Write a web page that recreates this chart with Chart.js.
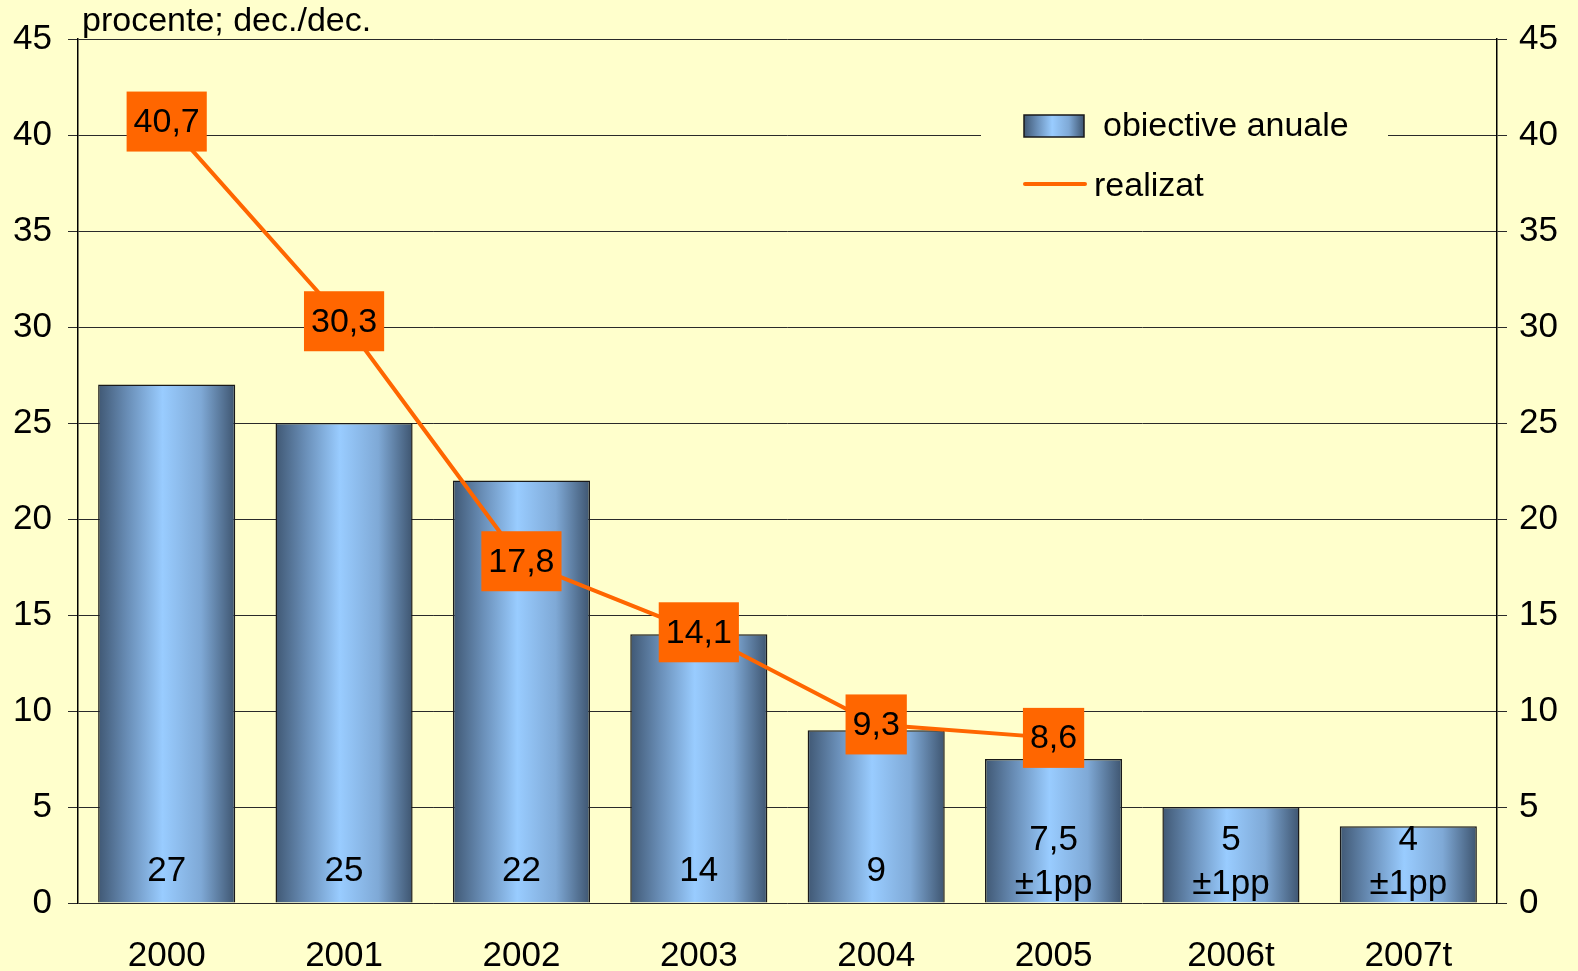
<!DOCTYPE html>
<html>
<head>
<meta charset="utf-8">
<script src="https://cdn.jsdelivr.net/npm/chart.js@4/dist/chart.umd.min.js"></script>
<style>
body { margin: 0; background: #ffffcc; }
#wrap { width: 1578px; height: 971px; }
</style>
</head>
<body>
<div id="wrap"><canvas id="inflChart"></canvas></div>
<script>
const years = ["2000", "2001", "2002", "2003", "2004", "2005", "2006t", "2007t"]
const targets = [27, 25, 22, 14, 9, 7.5, 5, 4]
const targetNotes = ["", "", "", "", "", "±1pp", "±1pp", "±1pp"]
const actual = [40.7, 30.3, 17.8, 14.1, 9.3, 8.6, null, null]

const FONT = "'Liberation Sans', Arial, sans-serif"
const catPct = 0.773

const fmt = v => String(v).replace(".", ",")

function barGradient(ctx, x0, x1) {
    const g = ctx.createLinearGradient(x0, 0, x1, 0)
    g.addColorStop(0, "#405874")
    g.addColorStop(0.22, "#6a8fb8")
    g.addColorStop(0.47, "#99ccff")
    g.addColorStop(0.75, "#7fa9d6")
    g.addColorStop(1, "#3e5570")
    return g
}

const decor = {
    id: "decor",
    beforeDraw(chart) {
        const c = chart.ctx
        c.save()
        c.fillStyle = "#ffffcc"
        c.fillRect(0, 0, chart.width, chart.height)
        c.restore()
    },
    afterDatasetsDraw(chart) {
        const c = chart.ctx
        const base = chart.scales.y.getPixelForValue(0)
        const bars = chart.getDatasetMeta(1).data
        const pts = chart.getDatasetMeta(0).data

        c.save()
        c.font = "35px " + FONT
        c.textAlign = "center"
        c.textBaseline = "middle"
        c.fillStyle = "#000"

        // values inside the bars
        bars.forEach((b, i) => {
            if (targetNotes[i]) {
                c.fillText(fmt(targets[i]), b.x, base - 63)
                c.fillText(targetNotes[i], b.x, base - 19)
            } else {
                c.fillText(fmt(targets[i]), b.x, base - 32)
            }
        })

        // orange boxes for realised values
        c.font = "34px " + FONT
        pts.forEach((p, i) => {
            if (actual[i] == null) return
            const txt = fmt(actual[i])
            const w = c.measureText(txt).width + 14
            c.fillStyle = "#ff6600"
            c.fillRect(p.x - w / 2, p.y - 30, w, 60)
            c.fillStyle = "#000"
            c.fillText(txt, p.x, p.y + 1)
        })

        // unit label
        c.textAlign = "left"
        c.textBaseline = "alphabetic"
        c.font = "34px " + FONT
        c.fillText("procente; dec./dec.", 82, 31)

        // legend
        c.fillStyle = "#ffffcc"
        c.fillRect(981, 100, 407, 110)
        c.fillStyle = barGradient(c, 1024, 1084)
        c.fillRect(1024, 115, 60, 22)
        c.strokeStyle = "#1a1a1a"
        c.lineWidth = 1.5
        c.strokeRect(1024, 115, 60, 22)
        c.strokeStyle = "#ff6600"
        c.lineWidth = 4
        c.lineCap = "round"
        c.beginPath()
        c.moveTo(1025, 184)
        c.lineTo(1085, 184)
        c.stroke()
        c.fillStyle = "#000"
        c.font = "34px " + FONT
        c.textBaseline = "middle"
        c.fillText(chart.data.datasets[1].label, 1103, 127)
        c.fillText(chart.data.datasets[0].label, 1094, 187)
        c.restore()
    }
}

new Chart(document.getElementById("inflChart"), {
    type: "bar",
    data: {
        labels: years,
        datasets: [{
            type: "line",
            label: "realizat",
            data: actual,
            borderColor: "#ff6600",
            borderWidth: 4,
            pointRadius: 0,
            spanGaps: false,
            order: 0
        }, {
            label: "obiective anuale",
            data: targets,
            backgroundColor: ctx => {
                const xs = ctx.chart.scales.x
                if (!xs || !xs.width) return "#99ccff"
                const cx = xs.getPixelForTick(ctx.dataIndex)
                const w = xs.width / years.length * catPct
                return barGradient(ctx.chart.ctx, cx - w / 2, cx + w / 2)
            },
            borderColor: "#1a1a1a",
            borderWidth: 1.5,
            categoryPercentage: catPct,
            barPercentage: 1,
            order: 1
        }]
    },
    options: {
        responsive: true,
        maintainAspectRatio: false,
        animation: false,
        layout: { padding: { top: 39 } },
        plugins: {
            legend: { display: false },
            tooltip: { enabled: false }
        },
        scales: {
            x: {
                offset: true,
                grid: { display: false, drawTicks: false },
                border: { display: false },
                ticks: {
                    color: "#000",
                    font: { family: FONT, size: 35 },
                    padding: 32,
                    maxRotation: 0
                },
                afterFit: s => { s.height = 68 }
            },
            y: {
                min: 0,
                max: 45,
                ticks: {
                    stepSize: 5,
                    color: "#000",
                    font: { family: FONT, size: 35 },
                    padding: 16
                },
                grid: { color: "#2a2a2a", lineWidth: 1, tickLength: 10 },
                border: { color: "#000", width: 1.5 },
                afterFit: s => { s.width = 78 }
            },
            y2: {
                position: "right",
                min: 0,
                max: 45,
                ticks: {
                    stepSize: 5,
                    color: "#000",
                    font: { family: FONT, size: 35 },
                    padding: 12
                },
                grid: { drawOnChartArea: false, color: "#2a2a2a", tickLength: 10 },
                border: { color: "#000", width: 1.5 },
                afterFit: s => { s.width = 81 }
            }
        }
    },
    plugins: [decor]
})
</script>
</body>
</html>
